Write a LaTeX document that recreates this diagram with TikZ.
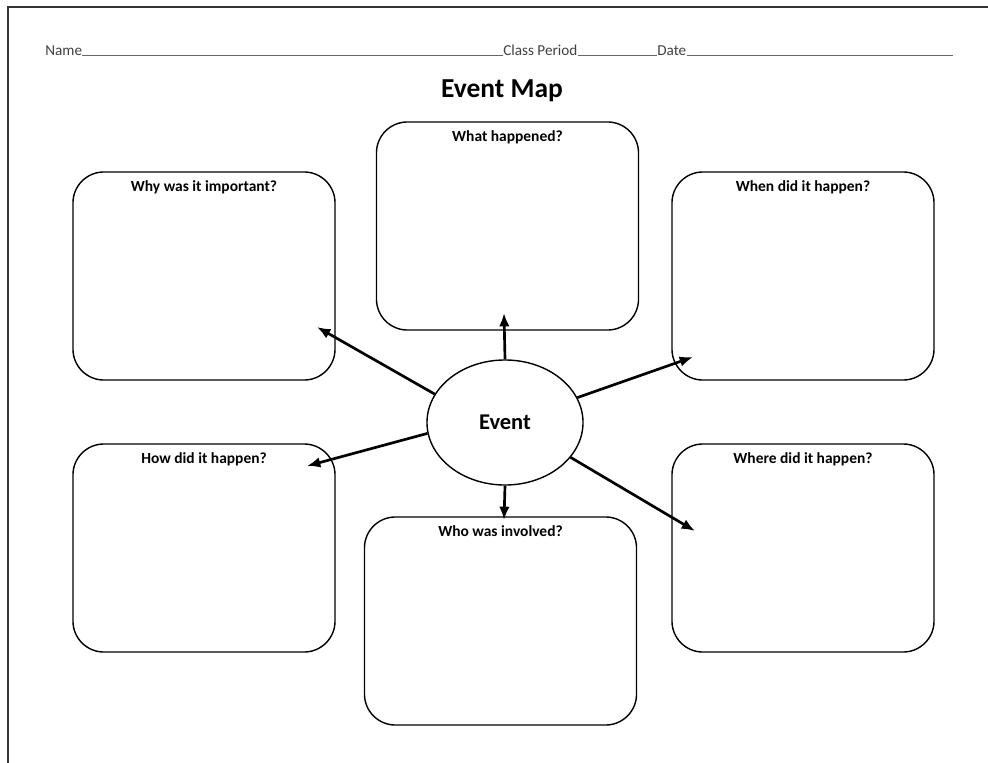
\documentclass[tikz,border=0pt]{standalone}
\usepackage{fontspec}
\setmainfont{Carlito}
\usetikzlibrary{shapes.geometric,arrows.meta}

\begin{document}
\begin{tikzpicture}[x=0.025cm,y=-0.025cm,
  box/.style={draw,rounded corners=22pt,line width=1pt,minimum width=6.55cm,minimum height=5.2cm,inner sep=0pt},
  ask/.style={anchor=north,font=\fontsize{11}{13}\selectfont\bfseries,inner sep=0pt,yshift=-6.5pt},
  blank/.style={font=\fontsize{10.8}{12}\selectfont,text=black!75,inner sep=0pt,anchor=base west},
  spoke/.style={-{Latex[length=9.5pt,width=7.5pt]},line width=1.9pt}
]
\useasboundingbox (0,0) rectangle (988,763);

% page frame
\draw[line width=1.3pt,black!80] (8,763) -- (8,7) -- (988,7);

% name / class / date line
\node[blank] (name) at (45,55) {Name};
\node[blank] (period) at (503,55) {Class Period};
\node[blank] (date) at (657,55) {Date};
\draw[black!60,line width=0.7pt] (name.base east) -- (period.base west)
  (period.base east) -- (date.base west)
  (date.base east) -- (953,55);

\node[font=\fontsize{19.5}{22}\selectfont\bfseries] (title) at (502,91) {Event Map};

% the six boxes
\node[box] (what) at (507.5,226) {};
\node[box] (why) at (204,276) {};
\node[box] (when) at (803,276) {};
\node[box] (how) at (204,548) {};
\node[box] (where) at (803,548) {};
\node[box,minimum width=6.8cm] (who) at (500.5,621) {};

\node[ask] (whatq) at (what.north) {What happened?};
\node[ask] (whyq) at (why.north) {Why was it important?};
\node[ask] (whenq) at (when.north) {When did it happen?};
\node[ask] (howq) at (how.north) {How did it happen?};
\node[ask] (whereq) at (where.north) {Where did it happen?};
\node[ask] (whoq) at (who.north) {Who was involved?};

% centre
\node[ellipse,draw,line width=1pt,minimum width=3.9cm,minimum height=3.125cm,
  font=\fontsize{16}{18}\selectfont\bfseries] (event) at (505,422.5) {Event};

% arrow ends
\coordinate (whattip) at (504,313);
\coordinate (whytip) at (317,327);
\coordinate (whentip) at (693,357);
\coordinate (howtip) at (307,466);
\coordinate (wheretip) at (695,531);
\coordinate (whotip) at (504,520);

\draw[spoke] (event.90) -- (whattip);
\draw[spoke] (event.158) -- (whytip);
\draw[spoke] (event.19) -- (whentip);
\draw[spoke] (event.188) -- (howtip);
\draw[spoke] (event.332) -- (wheretip);
\draw[spoke] (event.270) -- (whotip);

\end{tikzpicture}
\end{document}
